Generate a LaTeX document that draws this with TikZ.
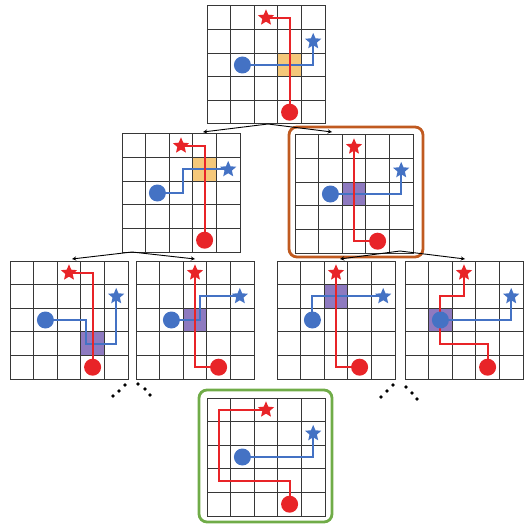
\documentclass[tikz,border=0pt]{standalone}
\usetikzlibrary{shapes.geometric,calc}

\definecolor{pathred}{RGB}{232,36,40}
\definecolor{pathblue}{RGB}{68,114,196}
\definecolor{crossyellow}{RGB}{245,200,122}
\definecolor{crosspurple}{RGB}{142,122,192}
\definecolor{pickorange}{RGB}{192,90,32}
\definecolor{pickgreen}{RGB}{112,172,72}
\definecolor{gridgray}{RGB}{55,55,55}

\tikzset{
    boardbox/.style={rectangle, inner sep=0pt, outer sep=0pt, minimum width=118pt, minimum height=118pt},
    cellunits/.style={x=23.6pt, y=-23.6pt},
    gridline/.style={draw=gridgray, line width=1pt},
    redpath/.style={draw=pathred, line width=2pt},
    bluepath/.style={draw=pathblue, line width=2pt},
    rstar/.style={star, star points=5, star point ratio=2.2, fill=pathred, inner sep=0pt, minimum size=17pt},
    bstar/.style={star, star points=5, star point ratio=2.2, fill=pathblue, inner sep=0pt, minimum size=17pt},
    rdot/.style={circle, fill=pathred, inner sep=0pt, minimum size=17pt},
    bdot/.style={circle, fill=pathblue, inner sep=0pt, minimum size=17pt},
    branchline/.style={->, >=stealth, line width=0.9pt},
    pickframe/.style={line width=2.8pt, rounded corners=8pt},
}

% one 5x5 board, drawn in cell units
\newcommand{\drawboard}{%
    \foreach \i in {1,...,4} {
        \draw[gridline] (\i,0) -- (\i,5);
        \draw[gridline] (0,\i) -- (5,\i);
    }
    \draw[gridline] (0,0) rectangle (5,5);
}

\begin{document}
\begin{tikzpicture}[x=1pt, y=-1pt]
    \useasboundingbox (0,0) rectangle (530,524);

    % boards
    \node[boardbox] (top) at (266,65) {};
    \node[boardbox] (midl) at (181,193) {};
    \node[boardbox] (midr) at (354,194) {};
    \node[boardbox] (lowa) at (69,320) {};
    \node[boardbox] (lowb) at (195,320) {};
    \node[boardbox] (lowc) at (336,320) {};
    \node[boardbox] (lowd) at (464,320) {};
    \node[boardbox] (goal) at (266,457) {};

    % top board
    \begin{scope}[shift={(top.north west)}, cellunits]
        \fill[crossyellow] (3,2) rectangle (4,3);
        \drawboard
        \draw[bluepath] (1.5,2.5) -| (4.5,1.5);
        \draw[redpath] (2.5,0.5) -| (3.5,4.5);
        \node[rstar] (top-rs) at (2.5,0.5) {};
        \node[rdot] (top-rd) at (3.5,4.5) {};
        \node[bstar] (top-bs) at (4.5,1.5) {};
        \node[bdot] (top-bd) at (1.5,2.5) {};
    \end{scope}

    % second row
    \begin{scope}[shift={(midl.north west)}, cellunits]
        \fill[crossyellow] (3,1) rectangle (4,2);
        \drawboard
        \draw[bluepath] (1.5,2.5) -| (2.6,1.5) -- (4.5,1.5);
        \draw[redpath] (2.5,0.5) -| (3.5,4.5);
        \node[rstar] (midl-rs) at (2.5,0.5) {};
        \node[rdot] (midl-rd) at (3.5,4.5) {};
        \node[bstar] (midl-bs) at (4.5,1.5) {};
        \node[bdot] (midl-bd) at (1.5,2.5) {};
    \end{scope}

    \begin{scope}[shift={(midr.north west)}, cellunits]
        \fill[crosspurple] (2,2) rectangle (3,3);
        \drawboard
        \draw[bluepath] (1.5,2.5) -| (4.5,1.5);
        \draw[redpath] (2.5,0.5) |- (3.5,4.5);
        \node[rstar] (midr-rs) at (2.5,0.5) {};
        \node[rdot] (midr-rd) at (3.5,4.5) {};
        \node[bstar] (midr-bs) at (4.5,1.5) {};
        \node[bdot] (midr-bd) at (1.5,2.5) {};
    \end{scope}

    % third row
    \begin{scope}[shift={(lowa.north west)}, cellunits]
        \fill[crosspurple] (3,3) rectangle (4,4);
        \drawboard
        \draw[bluepath] (1.5,2.5) -| (3.2,3.5) -| (4.5,1.5);
        \draw[redpath] (2.5,0.5) -| (3.5,4.5);
        \node[rstar] (lowa-rs) at (2.5,0.5) {};
        \node[rdot] (lowa-rd) at (3.5,4.5) {};
        \node[bstar] (lowa-bs) at (4.5,1.5) {};
        \node[bdot] (lowa-bd) at (1.5,2.5) {};
    \end{scope}

    \begin{scope}[shift={(lowb.north west)}, cellunits]
        \fill[crosspurple] (2,2) rectangle (3,3);
        \drawboard
        \draw[bluepath] (1.5,2.5) -| (2.7,1.5) -- (4.4,1.5);
        \draw[redpath] (2.5,0.5) |- (3.5,4.5);
        \node[rstar] (lowb-rs) at (2.5,0.5) {};
        \node[rdot] (lowb-rd) at (3.5,4.5) {};
        \node[bstar] (lowb-bs) at (4.4,1.5) {};
        \node[bdot] (lowb-bd) at (1.5,2.5) {};
    \end{scope}

    \begin{scope}[shift={(lowc.north west)}, cellunits]
        \fill[crosspurple] (2,1) rectangle (3,2);
        \drawboard
        \draw[bluepath] (1.5,2.5) |- (4.5,1.5);
        \draw[redpath] (2.5,0.5) |- (3.5,4.5);
        \node[rstar] (lowc-rs) at (2.5,0.5) {};
        \node[rdot] (lowc-rd) at (3.5,4.5) {};
        \node[bstar] (lowc-bs) at (4.5,1.5) {};
        \node[bdot] (lowc-bd) at (1.5,2.5) {};
    \end{scope}

    \begin{scope}[shift={(lowd.north west)}, cellunits]
        \fill[crosspurple] (1,2) rectangle (2,3);
        \drawboard
        \draw[bluepath] (1.5,2.5) -| (4.5,1.5);
        \draw[redpath] (2.5,0.5) |- (1.5,1.5) |- (3.5,3.5) -- (3.5,4.5);
        \node[rstar] (lowd-rs) at (2.5,0.5) {};
        \node[rdot] (lowd-rd) at (3.5,4.5) {};
        \node[bstar] (lowd-bs) at (4.5,1.5) {};
        \node[bdot] (lowd-bd) at (1.5,2.5) {};
    \end{scope}

    % final board
    \begin{scope}[shift={(goal.north west)}, cellunits]
        \drawboard
        \draw[bluepath] (1.5,2.5) -| (4.5,1.5);
        \draw[redpath] (2.5,0.5) -| (0.5,3.5) -| (3.5,4.5);
        \node[rstar] (goal-rs) at (2.5,0.5) {};
        \node[rdot] (goal-rd) at (3.5,4.5) {};
        \node[bstar] (goal-bs) at (4.5,1.5) {};
        \node[bdot] (goal-bd) at (1.5,2.5) {};
    \end{scope}

    % highlight frames
    \draw[pickframe, pickorange] (289,127) rectangle (423,257);
    \draw[pickframe, pickgreen] (199,390) rectangle (332,522);

    % branching arrows
    \coordinate (top-split) at (268,124);
    \coordinate (midl-in) at (203,132);
    \coordinate (midr-in) at (332,132);
    \coordinate (midl-split) at (132,252);
    \coordinate (midr-split) at (400,251);
    \coordinate (lowa-in) at (72,259);
    \coordinate (lowb-in) at (195,259);
    \coordinate (lowc-in) at (340,259);
    \coordinate (lowd-in) at (465,259);
    \draw[branchline] (top-split) -- (midl-in);
    \draw[branchline] (top-split) -- (midr-in);
    \draw[branchline] (midl-split) -- (lowa-in);
    \draw[branchline] (midl-split) -- (lowb-in);
    \draw[branchline] (midr-split) -- (lowc-in);
    \draw[branchline] (midr-split) -- (lowd-in);

    % continuation dots
    \foreach \p in {(113,396),(119,391),(125,385),(138,384),(145,389),(150,395),
                    (381,397),(387,391),(393,385),(406,387),(412,393),(417,399)}
        \fill \p circle (1.8);
\end{tikzpicture}
\end{document}
